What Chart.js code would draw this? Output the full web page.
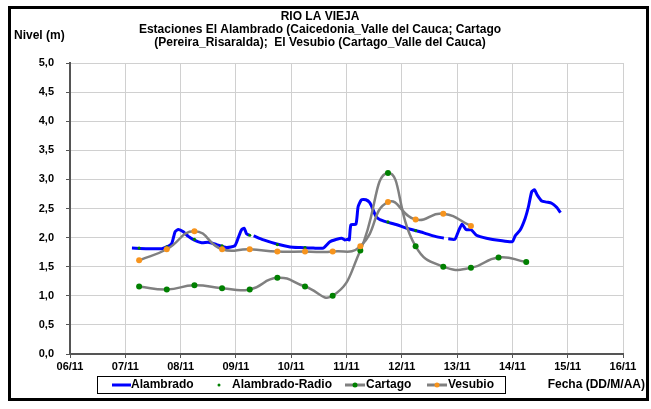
<!DOCTYPE html>
<html>
<head>
<meta charset="utf-8">
<title>Rio La Vieja</title>
<script src="https://cdn.jsdelivr.net/npm/chart.js@4.4.1/dist/chart.umd.min.js"></script>
<style>
    html, body { margin: 0; padding: 0; background: #fff; }
    #wrap { width: 651px; height: 409px; }
</style>
</head>
<body>
<div id="wrap"><canvas id="nivelChart" width="651" height="409"></canvas></div>
<script>
// Data (x = day of November, y = level in m)
const alambradoDias = [7.12, 7.40, 7.66, 7.75, 7.84, 7.90, 7.96, 8.05, 8.14, 8.24, 8.38, 8.50, 8.65, 8.83, 8.98,
    9.04, 9.10, 9.15, 9.19, 9.24, 9.28, 9.32, 9.50, 9.74, 9.98, 10.16, 10.40, 10.58, 10.70, 10.82, 10.91, 10.97,
    11.02, 11.05, 11.08, 11.17, 11.21, 11.27, 11.35, 11.42, 11.48, 11.53, 11.60, 11.72, 11.91, 12.09, 12.33, 12.57,
    12.76, 12.80, 12.84, 12.96, 13.02, 13.09, 13.16, 13.26, 13.35, 13.53, 13.78, 14.00, 14.05, 14.14, 14.23, 14.29,
    14.35, 14.40, 14.45, 14.53, 14.62, 14.71, 14.80, 14.87];
const alambradoNivel = [1.82, 1.81, 1.81, 1.84, 1.90, 2.10, 2.14, 2.10, 2.02, 1.96, 1.91, 1.92, 1.88, 1.83, 1.86,
    1.99, 2.13, 2.16, 2.07, 2.04, null, 2.03, 1.96, 1.89, 1.84, 1.83, 1.82, 1.82, 1.93, 1.97, 1.99, 1.96,
    1.97, 1.96, 2.22, 2.23, 2.53, 2.65, 2.65, 2.60, 2.48, 2.37, 2.31, 2.27, 2.22, 2.16, 2.10, 2.03,
    1.99, null, 1.98, 1.97, 2.10, 2.23, 2.14, 2.13, 2.04, 1.99, 1.95, 1.93, 2.03, 2.13, 2.33, 2.53,
    2.79, 2.82, 2.73, 2.63, 2.61, 2.59, 2.52, 2.43];

const radioDias = [7.25, 7.75, 8.25, 8.75, 9.25, 9.75, 10.25, 11.75, 12.25];
const radioNivel = [1.82, 1.84, 1.97, 1.86, 2.04, 1.88, 1.83, 2.27, 2.12];

const cartagoDias = [7.25, 7.75, 8.25, 8.75, 9.25, 9.75, 10.25, 10.75, 11.25, 11.75, 12.25, 12.75, 13.25, 13.75, 14.25];
const cartagoNivel = [1.16, 1.11, 1.18, 1.13, 1.11, 1.31, 1.16, 1.00, 1.78, 3.11, 1.85, 1.50, 1.48, 1.66, 1.58];

const vesubioDias = [7.25, 7.75, 8.25, 8.75, 9.25, 9.75, 10.25, 10.75, 11.25, 11.75, 12.25, 12.75, 13.25];
const vesubioNivel = [1.61, 1.80, 2.11, 1.80, 1.80, 1.76, 1.76, 1.76, 1.85, 2.61, 2.31, 2.41, 2.20];

// Axis ticks
const xTickDias = [6, 7, 8, 9, 10, 11, 12, 13, 14, 15, 16];
const yTickMax = 5;
const yTickStep = 0.5;

// Texts
const titleLines = [
    'RIO LA VIEJA',
    'Estaciones El Alambrado (Caicedonia_Valle del Cauca; Cartago',
    '(Pereira_Risaralda);  El Vesubio (Cartago_Valle del Cauca)'
];

const FONT = "'Liberation Sans', Arial, sans-serif";
const GREEN = '#008000';
const ORANGE = '#f7941d';
const GREY = '#808080';

function toPoints(xs, ys) {
    return xs.map((x, i) => ({ x: x, y: ys[i] }));
}

// Frame, titles and legend drawn on top of the chart
const decorPlugin = {
    id: 'decor',
    afterDraw(chart) {
        const ctx = chart.ctx;
        ctx.save();

        // outer frame
        ctx.strokeStyle = '#000';
        ctx.lineWidth = 3;
        ctx.strokeRect(9.5, 7.5, 638, 392);

        ctx.fillStyle = '#000';
        ctx.font = 'bold 12px ' + FONT;
        ctx.textBaseline = 'middle';

        ctx.textAlign = 'center';
        titleLines.forEach((line, i) => ctx.fillText(line, 320, 17 + i * 13));

        ctx.textAlign = 'left';
        ctx.fillText('Nivel (m)', 14, 36);

        ctx.textAlign = 'right';
        ctx.fillText('Fecha (DD/M/AA)', 645, 385);

        // legend box
        ctx.lineWidth = 1;
        ctx.strokeRect(97.5, 376.5, 408, 17);
        const ly = 385;
        ctx.textAlign = 'left';

        ctx.strokeStyle = '#0000ff';
        ctx.lineWidth = 3;
        ctx.beginPath(); ctx.moveTo(112, ly); ctx.lineTo(131, ly); ctx.stroke();
        ctx.fillText('Alambrado', 131, ly);

        ctx.fillStyle = GREEN;
        ctx.beginPath(); ctx.arc(219, ly, 1.5, 0, Math.PI * 2); ctx.fill();
        ctx.fillStyle = '#000';
        ctx.fillText('Alambrado-Radio', 232, ly);

        const drawGreyMarker = (x0, x1, color, label) => {
            ctx.strokeStyle = GREY;
            ctx.lineWidth = 3;
            ctx.beginPath(); ctx.moveTo(x0, ly); ctx.lineTo(x1, ly); ctx.stroke();
            ctx.fillStyle = color;
            ctx.beginPath(); ctx.arc((x0 + x1) / 2, ly, 2.5, 0, Math.PI * 2); ctx.fill();
            ctx.fillStyle = '#000';
            ctx.fillText(label, x1 + 1, ly);
        };
        drawGreyMarker(345, 365, GREEN, 'Cartago');
        drawGreyMarker(427, 447, ORANGE, 'Vesubio');

        ctx.restore();
    }
};

const tickFont = { family: FONT, size: 11, weight: 'bold' };

new Chart(document.getElementById('nivelChart'), {
    type: 'line',
    data: {
        datasets: [
            {
                label: 'Alambrado',
                data: toPoints(alambradoDias, alambradoNivel),
                borderColor: '#0000ff',
                borderWidth: 3,
                pointRadius: 0,
                tension: 0.2,
                spanGaps: false,
                order: 3
            },
            {
                label: 'Alambrado-Radio',
                data: toPoints(radioDias, radioNivel),
                showLine: false,
                pointRadius: 1.6,
                pointBackgroundColor: GREEN,
                pointBorderWidth: 0,
                order: 2
            },
            {
                label: 'Cartago',
                data: toPoints(cartagoDias, cartagoNivel),
                borderColor: GREY,
                borderWidth: 2.5,
                tension: 0.5,
                pointRadius: 3,
                pointBackgroundColor: GREEN,
                pointBorderWidth: 0,
                order: 1
            },
            {
                label: 'Vesubio',
                data: toPoints(vesubioDias, vesubioNivel),
                borderColor: GREY,
                borderWidth: 2.5,
                tension: 0.5,
                pointRadius: 3,
                pointBackgroundColor: ORANGE,
                pointBorderWidth: 0,
                order: 0
            }
        ]
    },
    options: {
        responsive: false,
        animation: false,
        layout: { padding: { left: 10, right: 28, top: 63, bottom: 33 } },
        plugins: {
            legend: { display: false },
            tooltip: { enabled: false },
            title: { display: false }
        },
        scales: {
            x: {
                type: 'linear',
                min: xTickDias[0],
                max: xTickDias[xTickDias.length - 1],
                afterBuildTicks: (scale) => { scale.ticks = xTickDias.map(v => ({ value: v })); },
                afterFit: (scale) => { scale.height = 22; },
                ticks: {
                    autoSkip: false,
                    maxRotation: 0,
                    padding: 2,
                    color: '#000',
                    font: tickFont,
                    callback: (v) => String(v).padStart(2, '0') + '/11'
                },
                grid: { color: '#d0d0d0', lineWidth: 1, tickColor: '#555', tickLength: 4 },
                border: { color: '#555', width: 2 }
            },
            y: {
                min: 0,
                max: yTickMax,
                afterFit: (scale) => { scale.width = 60; },
                ticks: {
                    stepSize: yTickStep,
                    padding: 12,
                    color: '#000',
                    font: tickFont,
                    callback: (v) => v.toFixed(1).replace('.', ',')
                },
                grid: { color: '#d0d0d0', lineWidth: 1, tickColor: '#555', tickLength: 4 },
                border: { color: '#555', width: 2 }
            }
        }
    },
    plugins: [decorPlugin]
});
</script>
</body>
</html>
